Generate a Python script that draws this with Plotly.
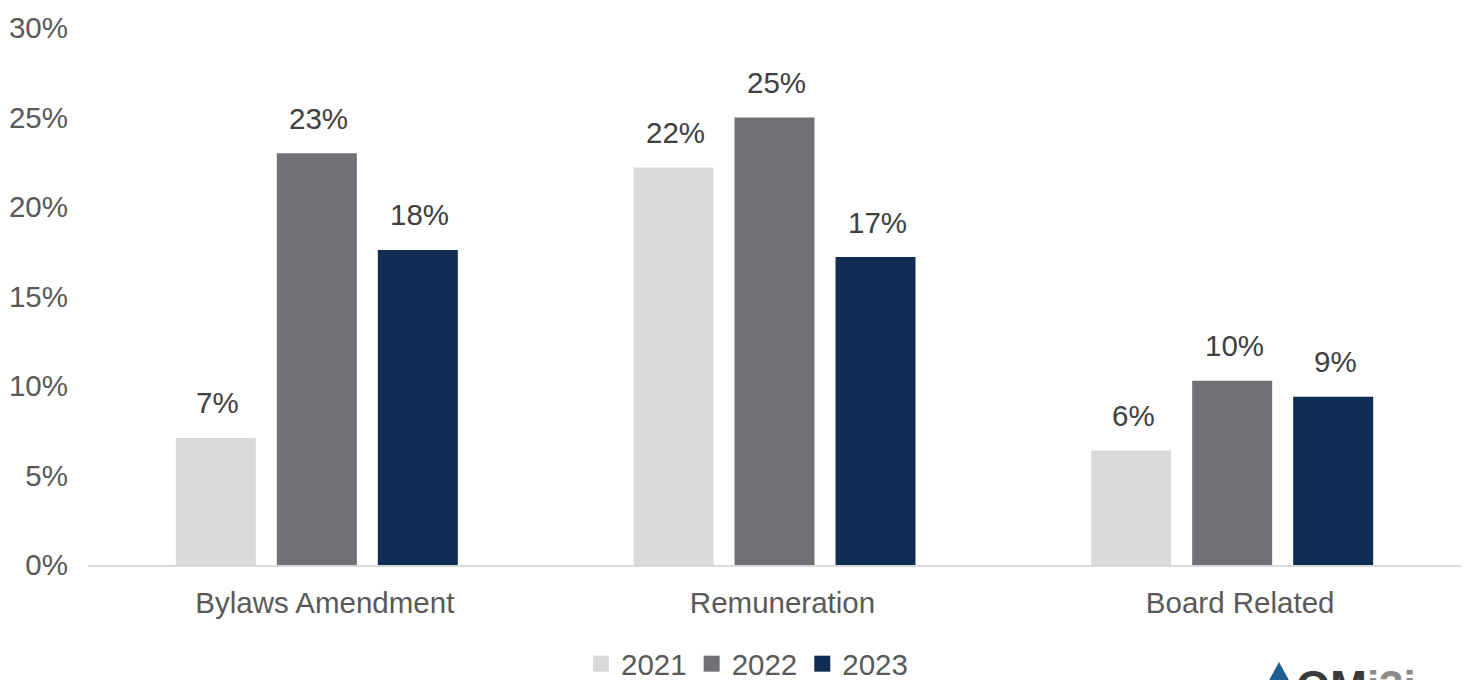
import plotly.graph_objects as go

categories = ["Bylaws Amendment", "Remuneration", "Board Related"]
years = ["2021", "2022", "2023"]
values_2021 = [7.1, 22.2, 6.4]
values_2022 = [23.0, 25.0, 10.3]
values_2023 = [17.6, 17.2, 9.4]
y_ticks = [0, 5, 10, 15, 20, 25, 30]

series = [values_2021, values_2022, values_2023]
colors = ["#d9d9d9", "#717075", "#0f2d52"]

FONT = "Liberation Sans, Arial, sans-serif"
FS = 29.5

L, R, T, B = 88, 5, 28, 115
W, H = 1466, 680
PW, PH = W - L - R, H - T - B


def px_x(p):
    return (p - L) / PW


def px_y(p):
    return (H - B - p) / PH


fig = go.Figure()
for yr, vals, col in zip(years, series, colors):
    fig.add_trace(go.Bar(
        name=yr, x=categories, y=vals, showlegend=False,
        marker=dict(color=col, line=dict(width=0)),
    ))
# legend entries with larger square markers
for yr, col in zip(years, colors):
    fig.add_trace(go.Scatter(
        name=yr, x=[categories[0]], y=[None], mode="markers",
        marker=dict(symbol="square", size=16, color=col),
    ))

offsets = [-99, 2, 103]
annotations = []
for vals, off in zip(series, offsets):
    for cat, v in zip(categories, vals):
        annotations.append(dict(
            x=cat, y=v, xref="x", yref="y", text=f"{round(v):d}%",
            showarrow=False, xshift=off, yshift=35, yanchor="middle",
            font=dict(family=FONT, size=FS, color="#404040"),
        ))

# logo (partially visible at bottom right)
annotations.append(dict(
    x=px_x(1294), y=px_y(660), xref="paper", yref="paper", xanchor="left", yanchor="top",
    text="<b><span style='color:#3a3a3a'>QM</span><span style='color:#8c8c8c'>i3i</span></b>",
    showarrow=False, font=dict(family=FONT, size=44),
))

shapes = [dict(
    type="path", xref="paper", yref="paper",
    path=f"M {px_x(1267)} {px_y(684)} L {px_x(1279)} {px_y(662)} L {px_x(1291)} {px_y(684)} Z",
    fillcolor="#1d5f91", line=dict(width=0),
)]

fig.update_layout(
    width=W, height=H,
    margin=dict(l=L, r=R, t=T, b=B, autoexpand=False),
    paper_bgcolor="white", plot_bgcolor="white",
    barmode="group", bargap=0.338, bargroupgap=0.208,
    font=dict(family=FONT, size=FS, color="#595959"),
    xaxis=dict(
        showline=True, linecolor="#d9d9d9", linewidth=2, ticks="",
        showgrid=False, tickfont=dict(size=FS, color="#595959"),
        ticklabelstandoff=11, ticklabelshift=8,
    ),
    yaxis=dict(
        range=[0, 30], tickvals=y_ticks, ticktext=[f"{t}%" for t in y_ticks],
        showgrid=False, zeroline=False, showline=False, ticks="",
        tickfont=dict(size=FS, color="#595959"), ticklabelstandoff=19,
    ),
    legend=dict(
        orientation="h", x=px_x(747), xanchor="center", y=px_y(664), yanchor="middle",
        font=dict(size=FS, color="#595959"), itemwidth=30, tracegroupgap=0,
        itemclick=False,
    ),
    annotations=annotations,
    shapes=shapes,
)

fig.write_html("out.html")
